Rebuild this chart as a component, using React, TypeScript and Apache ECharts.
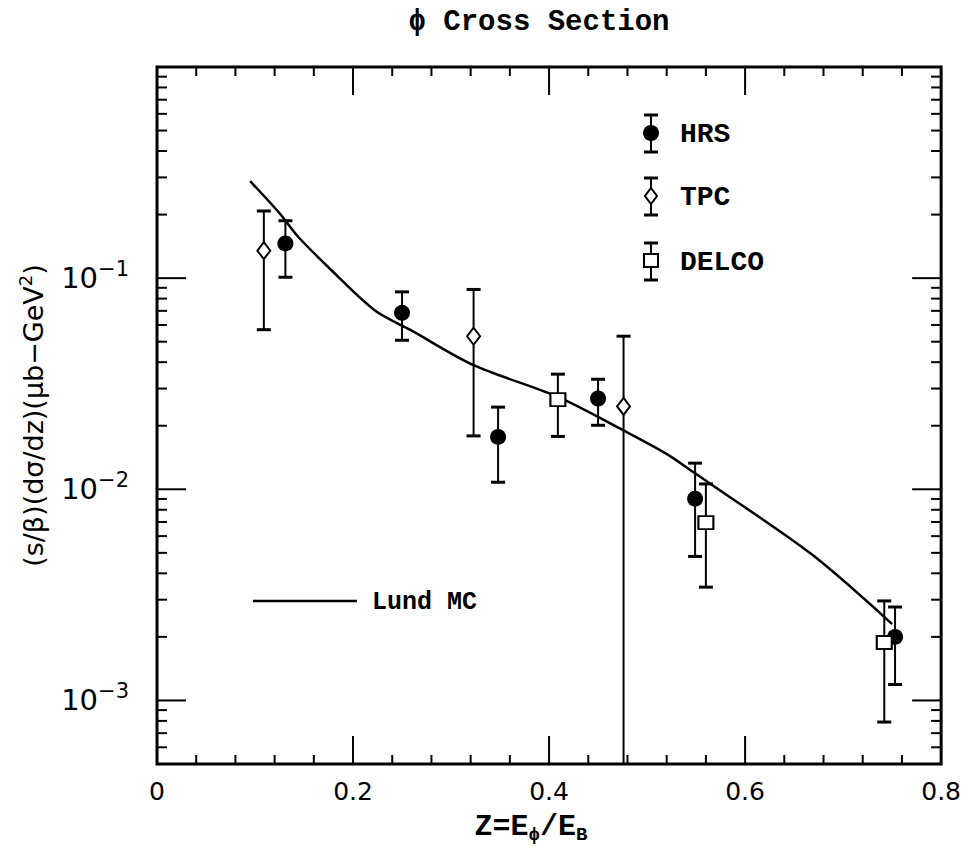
import React, { useEffect, useRef } from "react";
import * as echarts from "echarts";

// ---- data ----
const hrsX = [0.131, 0.25, 0.348, 0.45, 0.549, 0.753];
const hrsY = [0.146, 0.0685, 0.0177, 0.0269, 0.00903, 0.002];
const hrsLow = [0.101, 0.0508, 0.0108, 0.0201, 0.00481, 0.00119];
const hrsHigh = [0.187, 0.0861, 0.0245, 0.0332, 0.0133, 0.00277];

const tpcX = [0.109, 0.323, 0.476];
const tpcY = [0.135, 0.0531, 0.0247];
const tpcLow = [0.057, 0.0179, 0.0005];
const tpcHigh = [0.208, 0.0884, 0.0531];

const delcoX = [0.409, 0.56, 0.742];
const delcoY = [0.0266, 0.00695, 0.00188];
const delcoLow = [0.0178, 0.00344, 0.00079];
const delcoHigh = [0.0351, 0.0106, 0.00296];

const lundX = [0.095, 0.125, 0.144, 0.178, 0.222, 0.259, 0.323, 0.409, 0.476, 0.519, 0.549, 0.566, 0.667, 0.75];
const lundY = [0.288, 0.203, 0.157, 0.109, 0.0705, 0.0567, 0.0387, 0.0274, 0.019, 0.0148, 0.0119, 0.0105, 0.00496, 0.0023];

// ---- axis ticks ----
const X_MIN = 0;
const X_MAX = 0.8;
const Y_MIN = 0.0005;
const Y_MAX = 1;
const xMajorTicks = [0.2, 0.4, 0.6];
const xMinorTicks = [0.04, 0.08, 0.12, 0.16, 0.24, 0.28, 0.32, 0.36, 0.44, 0.48, 0.52, 0.56, 0.64, 0.68, 0.72, 0.76];
const yMajorTicks = [0.001, 0.01, 0.1];
const yMinorTicks = [
  0.0006, 0.0007, 0.0008, 0.0009,
  0.002, 0.003, 0.004, 0.005, 0.006, 0.007, 0.008, 0.009,
  0.02, 0.03, 0.04, 0.05, 0.06, 0.07, 0.08, 0.09,
  0.2, 0.3, 0.4, 0.5, 0.6, 0.7, 0.8, 0.9,
];

const MONO = "'Liberation Mono', 'DejaVu Sans Mono', monospace";
const SANS = "'DejaVu Sans', 'Liberation Sans', sans-serif";

function zip(xs: number[], ys: number[]) {
  return xs.map((x, i) => [x, ys[i]]);
}
function errData(xs: number[], lo: number[], hi: number[]) {
  return xs.map((x, i) => [x, lo[i], hi[i]]);
}

const errRender = (params: any, api: any) => {
  const x = api.value(0);
  const lo = api.value(1);
  const hi = api.value(2);
  const pHi = api.coord([x, hi]);
  const pLo = api.coord([x, Math.max(lo, Y_MIN)]);
  const half = 7;
  const children: any[] = [
    { type: "line", shape: { x1: pHi[0], y1: pHi[1], x2: pLo[0], y2: pLo[1] }, style: { stroke: "#000", lineWidth: 2 } },
    { type: "line", shape: { x1: pHi[0] - half, y1: pHi[1], x2: pHi[0] + half, y2: pHi[1] }, style: { stroke: "#000", lineWidth: 3 } },
  ];
  if (lo > Y_MIN) {
    children.push({ type: "line", shape: { x1: pLo[0] - half, y1: pLo[1], x2: pLo[0] + half, y2: pLo[1] }, style: { stroke: "#000", lineWidth: 3 } });
  }
  return { type: "group", children };
};

const tickRender = (params: any, api: any) => {
  const xv = api.value(0);
  const yv = api.value(1);
  const kind = api.value(2);
  const len = api.value(3);
  const st = { stroke: "#000", lineWidth: 2 };
  if (kind === 0) {
    const pb = api.coord([xv, Y_MIN]);
    const pt = api.coord([xv, Y_MAX]);
    return {
      type: "group",
      children: [
        { type: "line", shape: { x1: pb[0], y1: pb[1], x2: pb[0], y2: pb[1] - len }, style: st },
        { type: "line", shape: { x1: pt[0], y1: pt[1], x2: pt[0], y2: pt[1] + len }, style: st },
      ],
    };
  }
  const pl = api.coord([X_MIN, yv]);
  const pr = api.coord([X_MAX, yv]);
  return {
    type: "group",
    children: [
      { type: "line", shape: { x1: pl[0], y1: pl[1], x2: pl[0] + len, y2: pl[1] }, style: st },
      { type: "line", shape: { x1: pr[0], y1: pr[1], x2: pr[0] - len, y2: pr[1] }, style: st },
    ],
  };
};

function legendItem(cx: number, cy: number, label: string, marker: any) {
  return [
    { type: "line", shape: { x1: cx, y1: cy - 18, x2: cx, y2: cy + 19 }, style: { stroke: "#000", lineWidth: 2 } },
    { type: "line", shape: { x1: cx - 7, y1: cy - 18, x2: cx + 7, y2: cy - 18 }, style: { stroke: "#000", lineWidth: 3 } },
    { type: "line", shape: { x1: cx - 7, y1: cy + 19, x2: cx + 7, y2: cy + 19 }, style: { stroke: "#000", lineWidth: 3 } },
    marker,
    {
      type: "text",
      x: cx + 29,
      y: cy + 1,
      style: { text: label, font: `bold 28px ${MONO}`, fill: "#000", textVerticalAlign: "middle", textAlign: "left" },
    },
  ];
}

export default function App() {
  const ref = useRef<HTMLDivElement>(null);
  useEffect(() => {
    if (!ref.current) return;
    const chart = echarts.init(ref.current, undefined, { renderer: "svg" });
    const tickData = [
      ...xMajorTicks.map((v) => [v, 0.01, 0, 28]),
      ...xMinorTicks.map((v) => [v, 0.01, 0, 9]),
      ...yMajorTicks.map((v) => [0.4, v, 1, 29]),
      ...yMinorTicks.map((v) => [0.4, v, 1, 10]),
    ];
    const option: any = {
      animation: false,
      backgroundColor: "#fff",
      grid: {
        left: 157,
        right: 17,
        top: 67,
        bottom: 83,
        show: true,
        borderColor: "#000",
        borderWidth: 3,
        backgroundColor: "transparent",
      },
      xAxis: {
        type: "value",
        min: X_MIN,
        max: X_MAX,
        interval: 0.2,
        axisLine: { show: false },
        axisTick: { show: false },
        splitLine: { show: false },
        axisLabel: {
          margin: 15,
          fontSize: 25,
          fontFamily: SANS,
          color: "#000",
          formatter: (v: number) => (Math.abs(v) < 1e-9 ? "0" : String(Math.round(v * 10) / 10)),
        },
      },
      yAxis: {
        type: "log",
        logBase: 10,
        min: Y_MIN,
        max: Y_MAX,
        axisLine: { show: false },
        axisTick: { show: false },
        splitLine: { show: false },
        axisLabel: {
          margin: 28,
          formatter: (v: number) => {
            const e = Math.log10(v);
            const r = Math.round(e);
            if (Math.abs(e - r) > 1e-6 || r >= 0 || r < -3) return "";
            return `{b|10}{e|−${-r}}`;
          },
          rich: {
            b: { fontSize: 29, fontFamily: SANS, color: "#000", lineHeight: 40 },
            e: { fontSize: 21, fontFamily: SANS, color: "#000", lineHeight: 26, verticalAlign: "top" },
          },
        },
        name: "(s/β)(dσ/dz)(μb−GeV{sup|2})",
        nameLocation: "middle",
        nameGap: 106,
        nameTextStyle: {
          fontSize: 27,
          fontFamily: SANS,
          color: "#000",
          lineHeight: 34,
          rich: {
            sup: { fontSize: 18, fontFamily: SANS, color: "#000", lineHeight: 18, verticalAlign: "top" },
          },
        },
      },
      graphic: [
        {
          type: "text",
          x: 539,
          y: 22,
          style: { text: "ϕ Cross Section", font: `bold 29px ${MONO}`, fill: "#000", textAlign: "center", textVerticalAlign: "middle" },
        },
        {
          type: "text",
          x: 531,
          y: 827,
          style: {
            text: "{n|Z=E}{s|ϕ}{n|/E}{s|B}",
            textAlign: "center",
            textVerticalAlign: "middle",
            rich: {
              n: { fontSize: 30, fontFamily: MONO, fontWeight: "bold", fill: "#000", color: "#000", lineHeight: 34 },
              s: { fontSize: 19, fontFamily: MONO, fontWeight: "bold", fill: "#000", color: "#000", lineHeight: 20, verticalAlign: "bottom" },
            },
          },
        },
        ...legendItem(651, 133, "HRS", { type: "circle", shape: { cx: 651, cy: 133, r: 8 }, style: { fill: "#000" } }),
        ...legendItem(651, 196, "TPC", {
          type: "polygon",
          shape: { points: [[651, 188], [657, 196], [651, 204], [645, 196]] },
          style: { fill: "#fff", stroke: "#000", lineWidth: 2 },
        }),
        ...legendItem(651, 261, "DELCO", {
          type: "rect",
          shape: { x: 644, y: 254, width: 14, height: 13 },
          style: { fill: "#fff", stroke: "#000", lineWidth: 2 },
        }),
        { type: "line", shape: { x1: 253, y1: 601, x2: 357, y2: 601 }, style: { stroke: "#000", lineWidth: 2.5 } },
        {
          type: "text",
          x: 372,
          y: 602,
          style: { text: "Lund MC", font: `bold 25px ${MONO}`, fill: "#000", textVerticalAlign: "middle", textAlign: "left" },
        },
      ],
      series: [
        {
          type: "custom",
          name: "ticks",
          renderItem: tickRender,
          data: tickData,
          encode: { x: 0, y: 1 },
          silent: true,
          z: 1,
        },
        {
          type: "line",
          name: "Lund MC",
          data: zip(lundX, lundY),
          showSymbol: false,
          smooth: 0.3,
          lineStyle: { color: "#000", width: 2.5 },
          z: 2,
        },
        { type: "custom", name: "HRS err", renderItem: errRender, data: errData(hrsX, hrsLow, hrsHigh), encode: { x: 0, y: [1, 2] }, z: 3 },
        { type: "custom", name: "TPC err", renderItem: errRender, data: errData(tpcX, tpcLow, tpcHigh), encode: { x: 0, y: [1, 2] }, z: 3 },
        { type: "custom", name: "DELCO err", renderItem: errRender, data: errData(delcoX, delcoLow, delcoHigh), encode: { x: 0, y: [1, 2] }, z: 3 },
        {
          type: "scatter",
          name: "HRS",
          data: zip(hrsX, hrsY),
          symbol: "circle",
          symbolSize: 16,
          itemStyle: { color: "#000", opacity: 1 },
          z: 4,
        },
        {
          type: "scatter",
          name: "TPC",
          data: zip(tpcX, tpcY),
          symbol: "diamond",
          symbolSize: [13, 17],
          itemStyle: { color: "#fff", borderColor: "#000", borderWidth: 2, opacity: 1 },
          z: 4,
        },
        {
          type: "scatter",
          name: "DELCO",
          data: zip(delcoX, delcoY),
          symbol: "rect",
          symbolSize: [15, 13],
          itemStyle: { color: "#fff", borderColor: "#000", borderWidth: 2, opacity: 1 },
          z: 4,
        },
      ],
    };
    chart.setOption(option);
    return () => chart.dispose();
  }, []);
  return (
    <div
      ref={ref}
      style={{ position: "fixed", left: 0, top: 0, width: 964, height: 847, background: "#fff" }}
    />
  );
}
